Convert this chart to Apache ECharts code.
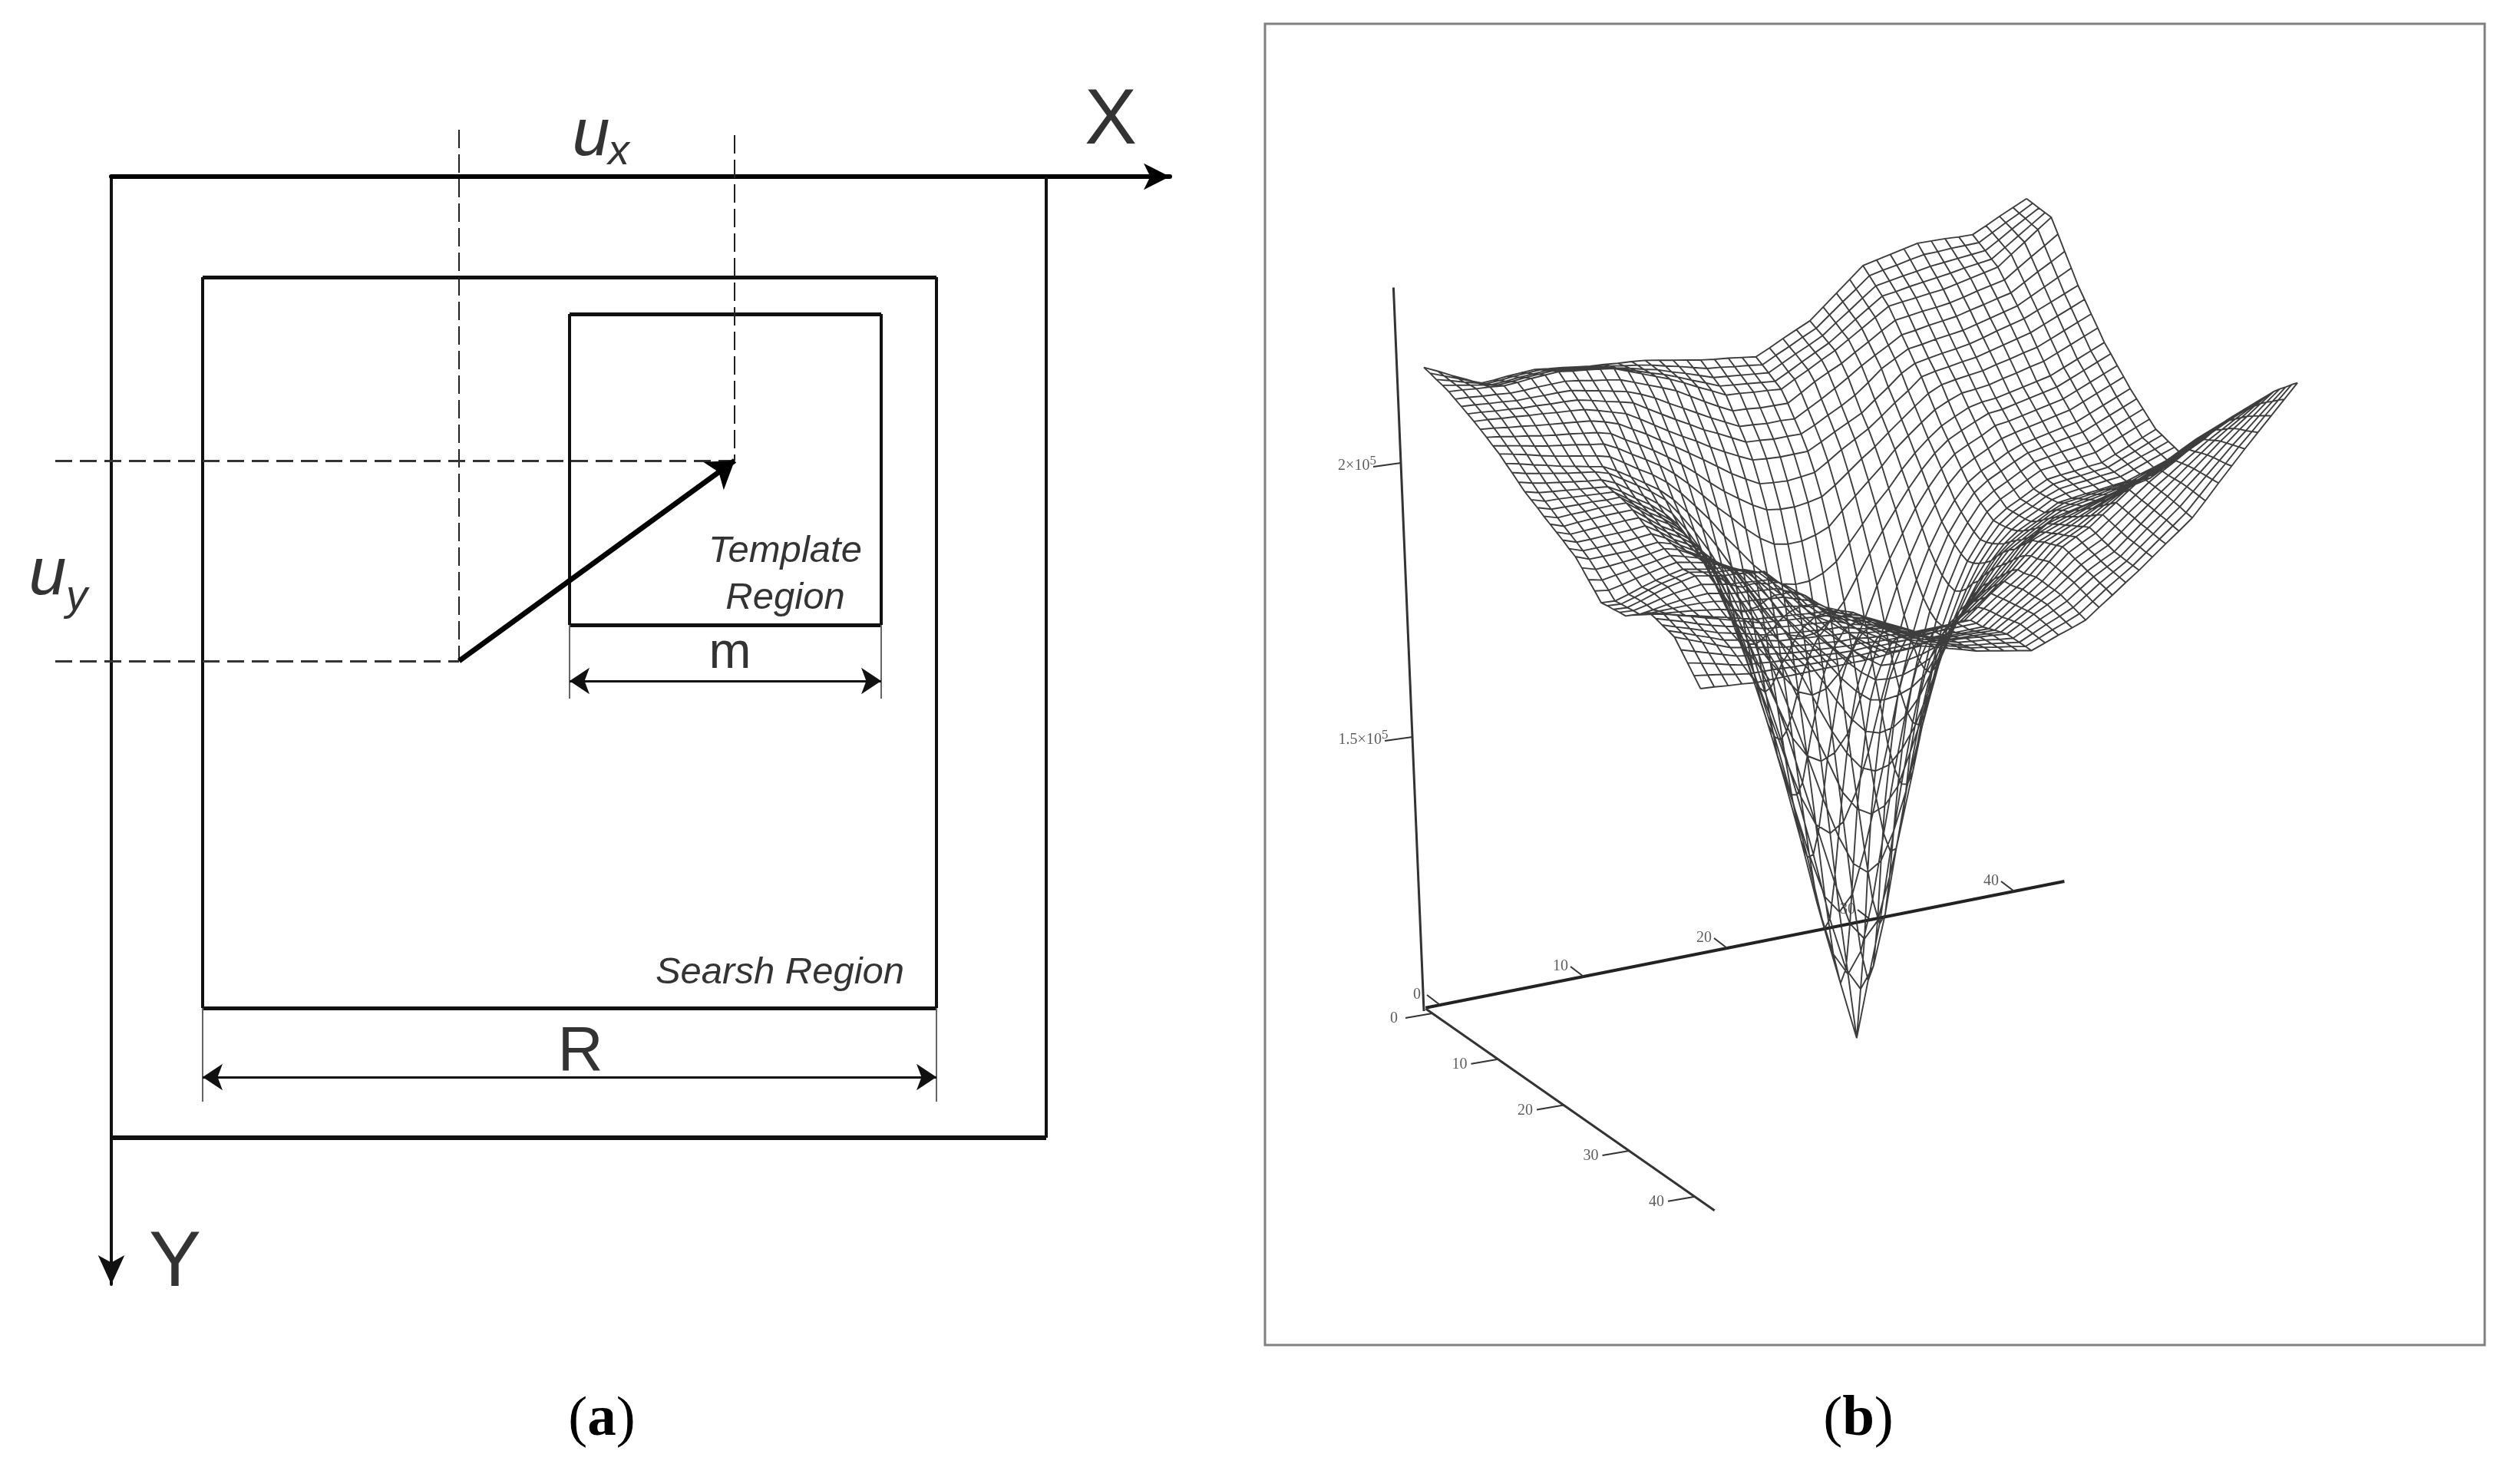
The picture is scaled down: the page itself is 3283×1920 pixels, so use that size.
<!DOCTYPE html>
<html>
<head>
<meta charset="utf-8">
<style>html,body{margin:0;background:#fff}#main{width:3283px;height:1920px}</style>
<script src="https://cdn.jsdelivr.net/npm/echarts@6/dist/echarts.min.js"></script>
</head>
<body>
<div id="main"></div>
<script>
// panel (a): rectangles as [x0, y0, x1, y1] in the X/Y units of the diagram
const outerFrame = [0, 0, 1218, 1252];
const searchRegion = [119, 131, 1075, 1083];
const templateRegion = [597, 179, 1003, 584];
const displacementFrom = [453, 631];
const displacementTo = [812, 370];
const dashedVertical = [[453, -61, 631], [812, -54, 370]];
const dashedHorizontal = [[370, -73, 812], [631, -73, 453]];
// dimension marks: [x0, x1, yFrom, yTo, yArrow]
const dimensionM = [597, 1003, 584, 680, 657];
const dimensionR = [119, 1075, 1083, 1205, 1173];

// panel (b): axis ticks
const surfaceXTicks = [0, 10, 20, 30, 40];
const surfaceYTicks = [0, 10, 20, 30, 40];
const surfaceZTicks = [150, 200];
const surfaceZTickLabels = ['1.5×10{sup|5}', '2×10{sup|5}'];

// surface height, in hundreds, one row per y index, one value per x index
const surfaceHeights = [
[2170,2158,2145,2133,2120,2121,2123,2124,2125,2121,2118,2114,2110,2108,2105,2103,2100,2095,2090,2085,2080,2076,2073,2069,2065,2076,2088,2099,2110,2130,2150,2170,2190,2195,2200,2205,2210,2209,2208,2206,2205,2216,2228,2239,2250],
[2168,2158,2148,2138,2128,2129,2131,2132,2133,2129,2126,2122,2118,2114,2109,2105,2100,2093,2087,2080,2073,2070,2066,2063,2059,2071,2082,2094,2105,2124,2143,2161,2180,2185,2189,2194,2198,2198,2199,2199,2199,2212,2225,2237,2250],
[2165,2158,2150,2143,2135,2136,2138,2139,2140,2136,2133,2129,2125,2119,2113,2106,2100,2091,2083,2074,2065,2062,2059,2056,2053,2065,2077,2088,2100,2118,2135,2153,2170,2174,2178,2181,2185,2187,2189,2191,2193,2207,2222,2236,2250],
[2163,2158,2153,2148,2143,2144,2146,2147,2148,2144,2141,2137,2133,2125,2117,2108,2100,2090,2079,2069,2058,2055,2052,2049,2046,2058,2071,2083,2095,2111,2128,2144,2160,2163,2167,2170,2173,2176,2180,2183,2186,2202,2218,2234,2250],
[2160,2158,2155,2153,2150,2151,2153,2154,2155,2151,2148,2144,2140,2130,2120,2110,2100,2088,2075,2063,2050,2048,2045,2043,2040,2053,2065,2078,2090,2105,2120,2135,2150,2153,2155,2158,2160,2165,2170,2175,2180,2198,2215,2233,2250],
[2155,2153,2150,2148,2145,2145,2146,2146,2146,2142,2137,2133,2128,2118,2108,2098,2087,2072,2057,2043,2030,2028,2025,2024,2023,2037,2052,2064,2075,2090,2104,2119,2133,2136,2139,2141,2144,2149,2155,2160,2165,2181,2197,2212,2228],
[2150,2148,2145,2143,2140,2140,2139,2139,2138,2132,2127,2121,2115,2105,2093,2078,2064,2050,2036,2023,2010,2008,2005,2005,2003,2016,2029,2043,2058,2074,2088,2101,2115,2118,2122,2125,2128,2134,2139,2145,2150,2164,2178,2191,2205],
[2145,2143,2140,2138,2135,2134,2132,2131,2129,2123,2116,2110,2103,2087,2072,2057,2043,2028,2016,2003,1990,1988,1985,1985,1984,1995,2008,2020,2034,2052,2072,2085,2098,2101,2105,2108,2111,2117,2123,2129,2135,2147,2159,2171,2183],
[2140,2138,2135,2133,2130,2128,2125,2123,2120,2113,2105,2097,2082,2066,2050,2035,2021,2005,1991,1978,1966,1963,1961,1961,1961,1973,1986,1998,2010,2029,2047,2067,2080,2084,2088,2091,2095,2101,2108,2114,2120,2130,2140,2150,2160],
[2134,2131,2127,2124,2120,2117,2114,2111,2108,2101,2092,2077,2063,2046,2030,2013,1996,1978,1960,1945,1931,1928,1926,1928,1931,1946,1962,1976,1990,2008,2027,2044,2064,2069,2072,2076,2079,2085,2091,2097,2103,2113,2123,2133,2143],
[2128,2124,2119,2115,2110,2106,2103,2099,2095,2088,2072,2058,2042,2025,2006,1985,1962,1941,1923,1906,1892,1888,1887,1890,1895,1911,1930,1949,1966,1986,2005,2024,2042,2053,2057,2060,2063,2069,2074,2080,2085,2095,2105,2115,2125],
[2121,2116,2111,2105,2100,2096,2092,2087,2083,2070,2054,2039,2023,2003,1979,1953,1926,1902,1876,1854,1838,1833,1833,1839,1849,1873,1895,1917,1939,1964,1984,2003,2021,2032,2041,2043,2046,2052,2057,2063,2068,2078,2088,2098,2108],
[2115,2109,2103,2096,2090,2085,2080,2075,2068,2052,2035,2020,2001,1976,1947,1917,1882,1851,1819,1793,1774,1768,1769,1778,1794,1823,1852,1882,1907,1936,1961,1982,2000,2012,2023,2028,2030,2035,2040,2045,2050,2060,2070,2080,2090],
[2106,2100,2093,2087,2080,2075,2069,2064,2051,2035,2018,2001,1978,1949,1916,1877,1835,1795,1754,1716,1689,1681,1684,1702,1730,1769,1807,1843,1877,1910,1939,1964,1983,1995,2006,2016,2018,2023,2028,2033,2038,2048,2058,2068,2078],
[2098,2091,2086,2081,2076,2072,2068,2060,2044,2028,2011,1991,1959,1923,1882,1834,1784,1726,1673,1626,1594,1583,1589,1613,1650,1701,1757,1801,1842,1882,1915,1944,1966,1978,1989,2002,2005,2010,2015,2020,2025,2035,2045,2055,2065],
[2089,2082,2077,2073,2069,2065,2062,2051,2034,2017,1998,1975,1939,1898,1848,1790,1722,1654,1589,1524,1486,1471,1481,1511,1568,1630,1696,1759,1808,1855,1892,1924,1948,1962,1974,1987,1993,1998,2003,2008,2013,2023,2033,2043,2053],
[2080,2073,2070,2067,2064,2061,2058,2044,2026,2010,1989,1962,1921,1871,1814,1745,1665,1585,1500,1425,1369,1348,1364,1413,1480,1563,1640,1715,1774,1827,1870,1904,1931,1947,1958,1971,1980,1985,1990,1995,2000,2010,2020,2030,2040],
[2074,2066,2065,2063,2061,2059,2057,2039,2022,2005,1985,1955,1911,1854,1790,1708,1620,1520,1425,1328,1246,1213,1241,1316,1405,1498,1595,1679,1750,1808,1856,1891,1921,1938,1950,1962,1973,1977,1982,1986,1990,2000,2010,2020,2030],
[2068,2060,2059,2058,2058,2056,2056,2037,2018,2002,1982,1950,1903,1842,1775,1682,1589,1483,1369,1246,1150,1108,1145,1234,1349,1461,1564,1654,1734,1794,1845,1880,1911,1928,1940,1953,1965,1969,1973,1976,1980,1990,2000,2010,2020],
[2061,2053,2054,2054,2055,2055,2054,2035,2015,2000,1979,1949,1900,1835,1765,1671,1575,1465,1345,1210,1105,1000,1100,1198,1325,1443,1550,1643,1725,1786,1837,1872,1903,1921,1933,1946,1958,1961,1964,1967,1970,1980,1990,2000,2010],
[2055,2046,2048,2049,2050,2050,2050,2030,2010,1995,1976,1946,1897,1833,1764,1671,1579,1473,1359,1236,1140,1098,1135,1224,1339,1451,1554,1644,1724,1783,1832,1866,1896,1913,1925,1938,1950,1953,1955,1958,1960,1970,1980,1990,2000],
[2049,2040,2041,2042,2043,2044,2044,2026,2007,1992,1973,1945,1897,1837,1772,1688,1603,1504,1409,1313,1231,1198,1226,1301,1390,1483,1580,1664,1735,1791,1837,1870,1898,1915,1927,1939,1950,1953,1955,1958,1960,1970,1979,1989,1998],
[2043,2034,2034,2035,2035,2036,2038,2022,2003,1989,1971,1946,1900,1845,1787,1716,1640,1561,1478,1404,1349,1328,1344,1393,1460,1543,1620,1695,1754,1804,1845,1876,1901,1917,1928,1941,1950,1953,1955,1958,1960,1969,1978,1986,1995],
[2036,2027,2027,2028,2028,2030,2032,2019,2001,1986,1970,1949,1905,1859,1807,1748,1685,1619,1557,1493,1458,1443,1453,1483,1540,1602,1667,1730,1778,1822,1855,1884,1905,1919,1931,1944,1950,1953,1955,1958,1960,1968,1977,1985,1993],
[2030,2020,2020,2020,2020,2023,2025,2017,1999,1985,1971,1953,1912,1871,1824,1773,1728,1671,1618,1573,1541,1530,1536,1560,1597,1650,1707,1754,1796,1835,1867,1893,1911,1923,1934,1947,1950,1953,1955,1958,1960,1968,1975,1983,1990],
[2018,2010,2011,2013,2015,2018,2022,2015,2001,1988,1974,1960,1925,1888,1847,1802,1765,1725,1682,1644,1616,1608,1613,1631,1660,1703,1743,1783,1820,1854,1884,1905,1920,1932,1945,1955,1958,1961,1964,1967,1970,1979,1988,1996,2005],
[2005,1999,2003,2006,2010,2014,2018,2011,2003,1990,1978,1966,1936,1904,1865,1829,1798,1765,1731,1703,1682,1677,1680,1689,1707,1741,1774,1809,1838,1870,1899,1916,1930,1943,1956,1961,1965,1969,1973,1976,1980,1990,2000,2010,2020],
[1993,1989,1994,2000,2005,2010,2014,2009,2003,1994,1983,1971,1945,1918,1882,1850,1826,1799,1770,1746,1727,1724,1726,1734,1746,1775,1802,1830,1857,1886,1912,1926,1941,1954,1964,1969,1973,1977,1982,1986,1990,2001,2013,2024,2035],
[1980,1978,1985,1993,2000,2005,2010,2005,2000,1998,1987,1978,1952,1928,1896,1868,1847,1823,1800,1780,1762,1760,1762,1767,1775,1798,1822,1848,1871,1898,1922,1938,1952,1965,1970,1975,1980,1985,1990,1995,2000,2013,2025,2038,2050],
[1983,1981,1988,1996,2003,2008,2013,2008,2003,2001,1997,1987,1963,1939,1910,1886,1871,1850,1829,1811,1794,1793,1794,1798,1804,1825,1847,1867,1887,1911,1937,1951,1967,1974,1981,1987,1993,1999,2006,2012,2018,2031,2043,2056,2068],
[1985,1983,1990,1998,2005,2010,2015,2010,2005,2003,2000,1997,1972,1949,1920,1898,1886,1868,1851,1836,1821,1820,1821,1823,1826,1844,1864,1881,1900,1925,1950,1965,1975,1983,1990,1998,2005,2013,2020,2028,2035,2048,2060,2073,2085],
[1988,1986,1991,1997,2002,2005,2008,2003,1998,1996,1993,1991,1976,1956,1930,1910,1898,1882,1867,1853,1838,1838,1838,1840,1842,1858,1877,1895,1914,1939,1964,1974,1983,1992,2001,2009,2018,2027,2036,2044,2053,2066,2078,2091,2103],
[1990,1988,1991,1995,1998,1999,2000,1995,1990,1988,1985,1983,1971,1960,1939,1921,1909,1894,1878,1865,1850,1850,1850,1852,1853,1871,1889,1908,1928,1950,1970,1980,1990,2000,2010,2020,2030,2040,2050,2060,2070,2083,2095,2108,2120],
[2000,1996,1997,1997,1997,1996,1994,1989,1983,1981,1978,1976,1967,1959,1942,1931,1922,1907,1891,1877,1863,1863,1863,1864,1866,1885,1905,1922,1938,1958,1978,1988,1998,2010,2022,2033,2045,2056,2067,2077,2088,2100,2112,2123,2135],
[2010,2005,2002,1999,1996,1992,1988,1981,1975,1973,1970,1968,1962,1957,1942,1933,1925,1913,1900,1888,1875,1875,1875,1875,1875,1891,1908,1924,1940,1961,1983,1994,2005,2019,2033,2046,2060,2071,2083,2094,2105,2116,2128,2139,2150],
[2020,2014,2008,2001,1995,1988,1982,1975,1968,1966,1963,1961,1958,1956,1943,1936,1928,1916,1903,1891,1878,1878,1878,1878,1878,1895,1912,1928,1945,1967,1989,2001,2013,2029,2044,2060,2075,2087,2099,2111,2123,2134,2144,2155,2165],
[2030,2023,2015,2008,2000,1993,1985,1978,1970,1968,1965,1963,1960,1958,1945,1938,1930,1918,1905,1893,1880,1880,1880,1880,1880,1898,1915,1933,1950,1973,1995,2008,2020,2038,2055,2073,2090,2103,2115,2128,2140,2150,2160,2170,2180],
[2028,2020,2012,2003,1995,1988,1982,1975,1968,1966,1963,1961,1958,1956,1945,1939,1933,1921,1911,1899,1888,1887,1887,1886,1885,1901,1918,1934,1951,1972,1993,2006,2018,2036,2054,2072,2090,2105,2119,2134,2148,2160,2172,2183,2195],
[2025,2016,2008,1999,1990,1984,1978,1971,1965,1963,1960,1958,1955,1954,1946,1940,1936,1926,1916,1906,1896,1895,1894,1892,1891,1906,1921,1936,1951,1971,1990,2003,2015,2034,2053,2071,2090,2106,2123,2139,2155,2169,2183,2196,2210],
[2023,2014,2004,1995,1985,1980,1974,1969,1963,1961,1958,1956,1953,1952,1946,1943,1939,1930,1921,1912,1903,1901,1900,1898,1896,1910,1924,1938,1952,1970,1988,2001,2013,2032,2052,2071,2090,2108,2127,2145,2163,2179,2194,2210,2225],
[2020,2010,2000,1990,1980,1975,1970,1965,1960,1958,1955,1953,1950,1950,1946,1944,1942,1934,1927,1919,1911,1909,1906,1904,1901,1914,1927,1939,1952,1969,1985,1998,2010,2030,2050,2070,2090,2110,2130,2150,2170,2188,2205,2223,2240],
[2005,1997,1989,1981,1973,1969,1966,1962,1958,1956,1954,1952,1950,1950,1947,1946,1945,1938,1930,1923,1915,1912,1909,1905,1902,1914,1926,1937,1949,1966,1983,1996,2010,2030,2050,2069,2089,2111,2132,2154,2175,2195,2214,2234,2253],
[1990,1984,1978,1971,1965,1963,1960,1958,1955,1954,1953,1951,1950,1951,1949,1949,1949,1941,1934,1926,1918,1914,1911,1907,1903,1914,1925,1935,1946,1963,1980,1995,2010,2030,2049,2069,2088,2111,2134,2157,2180,2201,2223,2244,2265],
[1975,1971,1967,1962,1958,1957,1956,1954,1953,1952,1952,1951,1950,1951,1951,1951,1952,1945,1937,1930,1922,1918,1913,1909,1904,1914,1924,1933,1943,1960,1978,1994,2010,2029,2048,2067,2086,2111,2136,2160,2185,2208,2232,2255,2278],
[1960,1958,1955,1953,1950,1950,1950,1950,1950,1950,1950,1950,1950,1951,1953,1954,1955,1948,1940,1933,1925,1920,1915,1910,1905,1914,1923,1931,1940,1958,1975,1993,2010,2029,2048,2066,2085,2111,2138,2164,2190,2215,2240,2265,2290]
];

const FRAME_LEFT = 1648;
const FRAME_TOP = 31;
const SANS = '"Liberation Sans"';
const SERIF = '"Liberation Serif"';

// view of the surface, frame pixels
function project(i, j, h) {
    const z = h / 10 - 100;
    return [
        242 + 17.9 * i + 8.05 * j - 0.3 * z,
        1283 - 3.7 * i + 6.1 * j - 7.14 * z
    ];
}
function xAxisPoint(v) { return [228 + 18.7 * v, 1278 - 3.7 * v]; }
function yAxisPoint(v) { return [218 + 8.55 * v, 1289 + 5.97 * v]; }
function zAxisPoint(v) { return [207 - 0.3 * (v - 100), 1286 - 7.14 * (v - 100)]; }

function buildMesh() {
    const pts = [];
    const rows = surfaceHeights.length;
    const cols = surfaceHeights[0].length;
    for (let j = 0; j < rows; j++) {
        for (let i = 0; i < cols; i++) pts.push(project(i, j, surfaceHeights[j][i]));
        pts.push([NaN, NaN]);
    }
    for (let i = 0; i < cols; i++) {
        for (let j = 0; j < rows; j++) pts.push(project(i, j, surfaceHeights[j][i]));
        pts.push([NaN, NaN]);
    }
    return pts;
}

function rectSides(r) {
    return {
        h: [[[r[0], r[1]], [r[2], r[1]]], [[r[0], r[3]], [r[2], r[3]]]],
        v: [[[r[0], r[1]], [r[0], r[3]]], [[r[2], r[1]], [r[2], r[3]]]]
    };
}

function segments(gridIndex, coords, width, color, extra) {
    return Object.assign({
        type: 'lines',
        coordinateSystem: 'cartesian2d',
        xAxisIndex: gridIndex,
        yAxisIndex: gridIndex,
        polyline: false,
        clip: false,
        silent: true,
        animation: false,
        lineStyle: { color: color, width: width, opacity: 1, curveness: 0 },
        data: coords.map(c => ({ coords: c }))
    }, extra || {});
}

function labels(gridIndex, items) {
    return {
        type: 'scatter',
        xAxisIndex: gridIndex,
        yAxisIndex: gridIndex,
        clip: false,
        silent: true,
        animation: false,
        symbolSize: 0,
        data: items.map(t => ({
            value: [t.x, t.y],
            label: {
                show: true,
                position: 'inside',
                formatter: t.text,
                color: t.color || '#000',
                fontFamily: t.font || SANS,
                fontSize: t.size,
                fontStyle: t.italic ? 'italic' : 'normal',
                rich: t.rich
            }
        }))
    };
}

const outerSides = rectSides(outerFrame);
const searchSides = rectSides(searchRegion);
const templateSides = rectSides(templateRegion);

const series = [
    segments(0, [outerSides.v[1]], 4, '#111'),
    segments(0, [outerSides.h[1]], 6, '#111'),
    segments(0, searchSides.h.concat(templateSides.h), 5, '#111'),
    segments(0, searchSides.v.concat(templateSides.v), 4, '#111'),
    segments(0, dashedVertical.map(d => [[d[0], d[1]], [d[0], d[2]]]), 2, '#222',
        { lineStyle: { color: '#222', width: 2, opacity: 1, type: [24, 8] } }),
    segments(0, dashedHorizontal.map(d => [[d[1], d[0]], [d[2], d[0]]]), 3, '#333',
        { lineStyle: { color: '#333', width: 3, opacity: 1, type: [22, 10] } }),
    segments(0, [[displacementFrom, displacementTo]], 7, '#000',
        { symbol: ['none', 'arrow'], symbolSize: 34 }),
    segments(0, [dimensionM, dimensionR].flatMap(d => [
        [[d[0], d[2]], [d[0], d[3]]], [[d[1], d[2]], [d[1], d[3]]]
    ]), 2, '#666'),
    segments(0, [dimensionM, dimensionR].map(d => [[d[0], d[4]], [d[1], d[4]]]), 3, '#111',
        { symbol: ['arrow', 'arrow'], symbolSize: 26 }),
    labels(0, [
        { x: 1302, y: -71, text: 'X', size: 102 },
        { x: 83, y: 1417, text: 'Y', size: 102 },
        { x: 625, y: -52, text: 'u', size: 88, italic: true },
        { x: 661, y: -32, text: 'x', size: 56, italic: true },
        { x: -83, y: 520, text: 'u', size: 88, italic: true },
        { x: -45, y: 548, text: 'y', size: 56, italic: true },
        { x: 806, y: 622, text: 'm', size: 66 },
        { x: 611, y: 1141, text: 'R', size: 82 },
        { x: 878, y: 488, text: 'Template', size: 49, italic: true },
        { x: 878, y: 549, text: 'Region', size: 49, italic: true },
        { x: 871, y: 1037, text: 'Searsh Region', size: 49, italic: true }
    ]),

    // panel (b)
    {
        type: 'line',
        xAxisIndex: 1,
        yAxisIndex: 1,
        data: buildMesh(),
        symbol: 'none',
        clip: false,
        silent: true,
        animation: false,
        connectNulls: false,
        lineStyle: { color: '#333', width: 1.9, opacity: 0.95 }
    },
    segments(1, [[xAxisPoint(-1), xAxisPoint(43.5)]], 4, '#222'),
    segments(1, [[yAxisPoint(-1), yAxisPoint(43)]], 3, '#333'),
    segments(1, [[zAxisPoint(100), zAxisPoint(232)]], 3, '#333'),
    segments(1, surfaceXTicks.map(v => {
        const p = xAxisPoint(v);
        return [p, [p[0] - 17, p[1] - 13]];
    }), 2, '#333'),
    segments(1, surfaceYTicks.map(v => {
        const p = yAxisPoint(v);
        return [p, [p[0] - 35, p[1] + 6]];
    }), 2, '#333'),
    segments(1, surfaceZTicks.map(v => {
        const p = zAxisPoint(v);
        return [p, [p[0] - 36, p[1] + 5]];
    }), 2, '#333'),
    labels(1, surfaceXTicks.map(v => {
        const p = xAxisPoint(v);
        return { x: p[0] - 30, y: p[1] - 13, text: String(v), size: 20, font: SERIF, color: '#333' };
    })),
    labels(1, surfaceYTicks.map(v => {
        const p = yAxisPoint(v);
        return { x: p[0] - 50, y: p[1] + 7, text: String(v), size: 20, font: SERIF, color: '#333' };
    })),
    labels(1, surfaceZTicks.map((v, k) => {
        const p = zAxisPoint(v);
        return {
            x: p[0] - (k === 0 ? 64 : 57), y: p[1] + 4,
            text: surfaceZTickLabels[k], size: 20, font: SERIF, color: '#333',
            rich: { sup: { fontSize: 17, fontFamily: SERIF, color: '#333', padding: [0, 0, 12, 0] } }
        };
    }))
];

const option = {
    backgroundColor: '#fff',
    animation: false,
    grid: [
        { left: 145, top: 230, width: 1379, height: 1443, containLabel: false },
        {
            left: FRAME_LEFT, top: FRAME_TOP, width: 1589, height: 1721, containLabel: false,
            show: true, borderColor: '#808080', borderWidth: 3, backgroundColor: 'transparent'
        }
    ],
    xAxis: [
        {
            type: 'value', gridIndex: 0, position: 'top', min: 0, max: 1379,
            axisLine: { show: true, onZero: false, symbol: ['none', 'arrow'], symbolSize: [26, 34], lineStyle: { color: '#000', width: 6 } },
            axisTick: { show: false }, axisLabel: { show: false }, splitLine: { show: false }
        },
        {
            type: 'value', gridIndex: 1, min: 0, max: 1589, show: false
        }
    ],
    yAxis: [
        {
            type: 'value', gridIndex: 0, inverse: true, min: 0, max: 1443,
            axisLine: { show: true, onZero: false, symbol: ['arrow', 'none'], symbolSize: [26, 38], lineStyle: { color: '#111', width: 4 } },
            axisTick: { show: false }, axisLabel: { show: false }, splitLine: { show: false }
        },
        {
            type: 'value', gridIndex: 1, inverse: true, min: 0, max: 1721, show: false
        }
    ],
    graphic: [
        {
            type: 'text', x: 784, y: 1850,
            style: {
                text: '{n|(}{b|a}{n|)}', align: 'center', verticalAlign: 'middle',
                rich: {
                    n: { fontFamily: SERIF, fontSize: 75, fill: '#000' },
                    b: { fontFamily: SERIF, fontSize: 75, fontWeight: 'bold', fill: '#000' }
                }
            }
        },
        {
            type: 'text', x: 2421, y: 1850,
            style: {
                text: '{n|(}{b|b}{n|)}', align: 'center', verticalAlign: 'middle',
                rich: {
                    n: { fontFamily: SERIF, fontSize: 75, fill: '#000' },
                    b: { fontFamily: SERIF, fontSize: 75, fontWeight: 'bold', fill: '#000' }
                }
            }
        }
    ],
    series: series
};

const chart = echarts.init(document.getElementById('main'));
chart.setOption(option);
</script>
</body>
</html>
